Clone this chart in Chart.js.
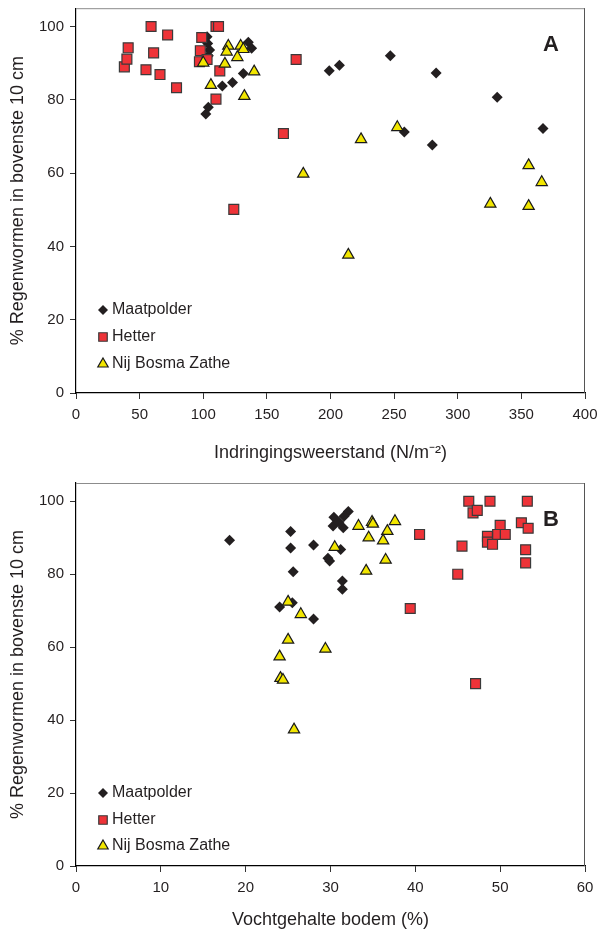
<!DOCTYPE html>
<html>
<head>
<meta charset="utf-8">
<script src="https://cdn.jsdelivr.net/npm/chart.js@4.4.1/dist/chart.umd.min.js"></script>
<style>
  body { margin: 0; background: #fff; width: 599px; height: 935px; position: relative; overflow: hidden; }
  .box { position: absolute; left: 0; width: 599px; }
  #boxA { top: 0; height: 472px; }
  #boxB { top: 472px; height: 463px; }
</style>
</head>
<body>
<div class="box" id="boxA"><canvas id="chartA"></canvas></div>
<div class="box" id="boxB"><canvas id="chartB"></canvas></div>
<script>
// series names
const seriesNames = ["Maatpolder", "Hetter", "Nij Bosma Zathe"];

// A: indringingsweerstand (x) vs % regenwormen in bovenste 10 cm (y)
const maatA_x = [103, 103.5, 105, 104, 135.4, 138, 131.5, 123, 115, 104, 102, 199, 207, 247, 283, 331, 258, 280, 367];
const maatA_y = [97.2, 95.4, 93.6, 92, 95.7, 94.1, 87.2, 84.7, 83.8, 78, 76.1, 87.9, 89.4, 92, 87.3, 80.7, 71.2, 67.7, 72.2];
const hetA_x = [38, 40, 41, 55, 59, 61, 66, 72, 79, 97.7, 98.8, 97, 103, 110, 112, 113, 110, 173, 163, 124];
const hetA_y = [89, 91.1, 94.2, 88.2, 100, 92.8, 86.9, 97.7, 83.3, 93.4, 97, 90.4, 91, 100, 100, 87.9, 80.2, 91, 70.8, 50.1];
const nijA_x = [119.7, 118.4, 129.4, 131.5, 126.8, 117, 100, 140, 106, 132.3, 224, 178.6, 214, 252.5, 355.7, 366, 325.6, 355.7];
const nijA_y = [94.7, 93.1, 94.7, 93.8, 91.6, 89.8, 90.1, 87.7, 84, 81, 69.2, 59.8, 37.7, 72.5, 62.1, 57.5, 51.6, 51];

// B: vochtgehalte bodem (x) vs % regenwormen (y)
const maatB_x = [32.1, 31.6, 30.4, 30.3, 31.5, 31, 18.1, 25.3, 25.3, 28, 25.6, 29.7, 29.9, 31.2, 31.4, 31.4, 24, 25.5, 28];
const maatB_y = [97.2, 95.9, 95.6, 93.2, 92.7, 94.3, 89.3, 91.7, 87.2, 88, 80.7, 84.4, 83.6, 86.8, 78.1, 75.9, 71, 72.2, 67.7];
const hetB_x = [46.3, 48.8, 53.2, 46.8, 47.3, 50, 52.5, 53.3, 40.5, 48.5, 48.5, 49.1, 49.7, 50.6, 45.5, 53, 53, 45, 39.4, 47.1];
const hetB_y = [100, 100, 100, 96.8, 97.5, 93.4, 94.1, 92.6, 90.9, 90.4, 88.8, 88.2, 90.9, 90.9, 87.7, 86.7, 83.1, 80, 70.6, 50];
const nijB_x = [33.3, 34.9, 35, 37.6, 34.5, 36.7, 36.2, 30.5, 36.5, 34.2, 25, 26.5, 25, 29.4, 24, 24.1, 24.4, 25.7];
const nijB_y = [93.2, 94.3, 93.8, 94.5, 90, 91.8, 89.2, 87.4, 83.9, 80.9, 72.4, 69, 62, 59.5, 57.4, 51.5, 51, 37.4];

// tick labels
const yTicks = [0, 20, 40, 60, 80, 100];
const xTicksA = [0, 50, 100, 150, 200, 250, 300, 350, 400];
const xTicksB = [0, 10, 20, 30, 40, 50, 60];

const FONT = "'Liberation Sans', Arial, sans-serif";
const TXT = "#231f20";

const styles = [
  { pointStyle: "rectRot", backgroundColor: "#231f20", borderColor: "#231f20", borderWidth: 0, pointRadius: 5.5 },
  { pointStyle: "rect", backgroundColor: "#ee3338", borderColor: "#3a3a3a", borderWidth: 1.2, pointRadius: 7 },
  { pointStyle: "triangle", backgroundColor: "#f2e600", borderColor: "#1a1a1a", borderWidth: 1.2, pointRadius: 6.5 }
];

function pts(xs, ys) {
  return xs.map((x, i) => ({ x: x, y: ys[i] }));
}

// grey frame on top and right of the plot
const framePlugin = {
  id: "frame",
  beforeDatasetsDraw(chart) {
    const a = chart.chartArea, ctx = chart.ctx;
    ctx.save();
    ctx.lineWidth = 1;
    ctx.strokeStyle = "#8c8c8c";
    ctx.beginPath();
    ctx.moveTo(a.left, a.top + 0.5);
    ctx.lineTo(a.right, a.top + 0.5);
    ctx.stroke();
    ctx.strokeStyle = "#555";
    ctx.beginPath();
    ctx.moveTo(a.right - 0.5, a.top);
    ctx.lineTo(a.right - 0.5, a.bottom);
    ctx.stroke();
    ctx.restore();
  }
};

// legend inside the plot + panel letter
const innerLegend = {
  id: "innerLegend",
  afterDatasetsDraw(chart, args, opts) {
    const a = chart.chartArea, ctx = chart.ctx;
    ctx.save();
    opts.rows.forEach((off, i) => {
      const st = styles[i];
      const y = a.bottom - off;
      const x = a.left + 27;
      ctx.fillStyle = st.backgroundColor;
      ctx.strokeStyle = st.borderColor;
      ctx.lineWidth = st.borderWidth;
      Chart.helpers.drawPoint(ctx, {
        pointStyle: st.pointStyle,
        radius: i === 0 ? 5 : 6,
        borderWidth: st.borderWidth,
        rotation: 0
      }, x, y);
      ctx.fillStyle = TXT;
      ctx.font = "16px " + FONT;
      ctx.textBaseline = "middle";
      ctx.textAlign = "left";
      ctx.fillText(seriesNames[i], x + 9, y);
    });
    ctx.font = "bold 22px " + FONT;
    ctx.textAlign = "center";
    ctx.fillText(opts.letter, a.right - 34, a.top + 37);
    ctx.restore();
  }
};

function makeChart(id, data, xTicks, xMax, xTitle, letter, rows, padTop, padRight, xAxisH, titleBottom) {
  const datasets = data.map((d, i) => Object.assign({
    label: seriesNames[i],
    data: d,
    order: 3 - i,
    pointHoverRadius: styles[i].pointRadius
  }, styles[i]));

  return new Chart(document.getElementById(id), {
    type: "scatter",
    data: { datasets: datasets },
    plugins: [framePlugin, innerLegend],
    options: {
      responsive: true,
      maintainAspectRatio: false,
      animation: false,
      clip: false,
      layout: { padding: { top: padTop, right: padRight, left: 0, bottom: 0 } },
      plugins: {
        legend: { display: false },
        tooltip: { enabled: false },
        innerLegend: { rows: rows, letter: letter }
      },
      scales: {
        x: {
          type: "linear",
          min: 0,
          max: xMax,
          afterBuildTicks: (s) => { s.ticks = xTicks.map((v) => ({ value: v })); },
          afterFit: (s) => { s.height = xAxisH; s.paddingLeft = 0; s.paddingRight = 0; },
          border: { color: "#000", width: 1.2 },
          grid: { drawOnChartArea: false, drawTicks: true, tickLength: 6, tickColor: "#333" },
          ticks: { color: TXT, padding: 7, font: { family: FONT, size: 15 } },
          title: { display: true, text: xTitle, color: TXT, padding: { top: 0, bottom: titleBottom }, font: { family: FONT, size: 18 } }
        },
        y: {
          type: "linear",
          min: 0,
          max: 105,
          afterBuildTicks: (s) => { s.ticks = yTicks.map((v) => ({ value: v })); },
          afterFit: (s) => { s.width = 76; s.paddingTop = 0; s.paddingBottom = 0; },
          border: { color: "#000", width: 1.2 },
          grid: { drawOnChartArea: false, drawTicks: true, tickLength: 6, tickColor: "#333" },
          ticks: { color: TXT, padding: 6, font: { family: FONT, size: 15 } },
          title: { display: true, text: "% Regenwormen in bovenste 10 cm", color: TXT, padding: { top: 7, bottom: 0 }, font: { family: FONT, size: 18 } }
        }
      }
    }
  });
}

makeChart("chartA",
  [pts(maatA_x, maatA_y), pts(hetA_x, hetA_y), pts(nijA_x, nijA_y)],
  xTicksA, 400, "Indringingsweerstand (N/m\u207B\u00B2)", "A", [83, 56, 29], 8, 14, 79, 8);

makeChart("chartB",
  [pts(maatB_x, maatB_y), pts(hetB_x, hetB_y), pts(nijB_x, nijB_y)],
  xTicksB, 60, "Vochtgehalte bodem (%)", "B", [73, 46, 20], 11, 14, 69, 4);
</script>
</body>
</html>
